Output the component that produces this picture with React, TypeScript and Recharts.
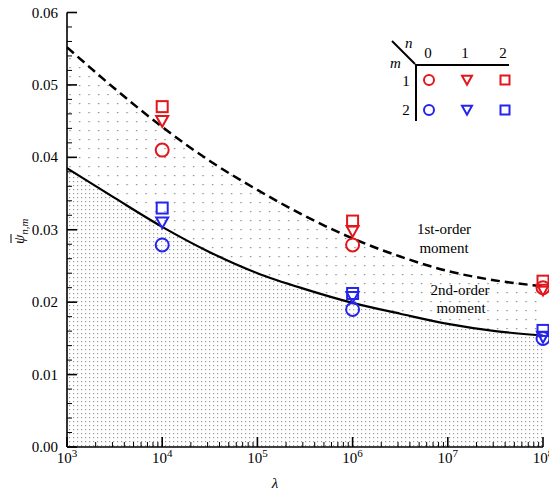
import React from "react";
import { ComposedChart, Area, Scatter, XAxis, YAxis } from "recharts";

// ---- data ----
const LAMBDA_CURVE = [1e3, 3.162e3, 1e4, 3.162e4, 1e5, 3.162e5, 1e6, 3.162e6, 1e7, 3.162e7, 1e8];
const FIRST_ORDER = [0.0552, 0.0495, 0.0442, 0.0395, 0.0355, 0.0319, 0.0288, 0.0263, 0.0243, 0.0230, 0.0222];
const SECOND_ORDER = [0.0385, 0.0344, 0.0304, 0.0269, 0.0240, 0.0218, 0.0199, 0.0184, 0.0170, 0.0160, 0.0154];

const LAMBDA_MARKERS = [1e4, 1e6, 1e8];
const M1N0 = [0.0410, 0.0279, 0.0220];
const M1N1 = [0.0450, 0.0298, 0.0217];
const M1N2 = [0.0470, 0.0312, 0.0229];
const M2N0 = [0.0279, 0.0190, 0.0150];
const M2N1 = [0.0310, 0.0207, 0.0152];
const M2N2 = [0.0330, 0.0212, 0.0161];

const X_DECADES = [3, 4, 5, 6, 7, 8];
const Y_MAJOR = [0, 0.01, 0.02, 0.03, 0.04, 0.05, 0.06];

const RED = "#e2161b";
const BLUE = "#2424ee";
const FONT = "'Liberation Serif', 'DejaVu Serif', serif";

const curveData = LAMBDA_CURVE.map((lam, i) => ({ lam, d1: FIRST_ORDER[i], d2: SECOND_ORDER[i] }));
const pts = (vals: number[]) => LAMBDA_MARKERS.map((lam, i) => ({ lam, v: vals[i] }));

const xTicks: number[] = [];
X_DECADES.forEach((d) => {
  if (d === 8) { xTicks.push(1e8); return; }
  for (let m = 1; m <= 9; m++) xTicks.push(m * Math.pow(10, d));
});
const yTicks: number[] = [];
for (let i = 0; i <= 30; i++) yTicks.push(Math.round(i * 2) / 1000);

const isMajorY = (v: number) => Y_MAJOR.some((m) => Math.abs(m - v) < 1e-9);

function XTick(props: any) {
  const { x, y, payload } = props;
  const v = payload.value as number;
  const e = Math.log10(v);
  const major = Math.abs(e - Math.round(e)) < 1e-6;
  return (
    <g>
      <line x1={x} x2={x} y1={y} y2={y - (major ? 10 : 5)} stroke="#000" strokeWidth={major ? 1.6 : 1} />
      {major && (
        <text x={x} y={y + 16} textAnchor="middle" fontSize={15} fontFamily={FONT} fill="#000">
          10<tspan dy={-6} fontSize={11}>{Math.round(e)}</tspan>
        </text>
      )}
    </g>
  );
}

function YTick(props: any) {
  const { x, y, payload } = props;
  const v = payload.value as number;
  const major = isMajorY(v);
  return (
    <g>
      <line x1={x} x2={x + (major ? 10 : 5)} y1={y} y2={y} stroke="#000" strokeWidth={major ? 1.6 : 1} />
      {major && (
        <text x={x - 9} y={y + 5} textAnchor="end" fontSize={15} fontFamily={FONT} fill="#000">
          {v.toFixed(2)}
        </text>
      )}
    </g>
  );
}

const circleShape = (color: string, r = 6.5) => (p: any) => (
  <circle cx={p.cx} cy={p.cy} r={r} fill="none" stroke={color} strokeWidth={2} />
);
const triShape = (color: string, s = 6) => (p: any) => (
  <polygon
    points={`${p.cx - s},${p.cy - s * 0.85} ${p.cx + s},${p.cy - s * 0.85} ${p.cx},${p.cy + s * 0.95}`}
    fill="none"
    stroke={color}
    strokeWidth={2}
  />
);
const sqShape = (color: string, s = 5.5) => (p: any) => (
  <rect x={p.cx - s} y={p.cy - s} width={2 * s} height={2 * s} fill="none" stroke={color} strokeWidth={2} />
);

function LegendTable() {
  return (
    <g fontFamily={FONT} fontSize={15} fill="#000">
      <line x1={392} y1={41} x2={415} y2={64} stroke="#000" strokeWidth={2} />
      <line x1={415} y1={65} x2={509} y2={65} stroke="#000" strokeWidth={2} />
      <line x1={416} y1={64} x2={416} y2={121} stroke="#000" strokeWidth={2} />
      <text x={405} y={48} fontStyle="italic">n</text>
      <text x={390} y={68} fontStyle="italic">m</text>
      <text x={428} y={58} textAnchor="middle">0</text>
      <text x={465} y={58} textAnchor="middle">1</text>
      <text x={503} y={58} textAnchor="middle">2</text>
      <text x={406} y={86} textAnchor="middle">1</text>
      <text x={406} y={115} textAnchor="middle">2</text>
      {circleShape(RED, 5)({ cx: 429, cy: 80 })}
      {triShape(RED, 5)({ cx: 467, cy: 80 })}
      {sqShape(RED, 4.5)({ cx: 505, cy: 80 })}
      {circleShape(BLUE, 5)({ cx: 429, cy: 110 })}
      {triShape(BLUE, 5)({ cx: 467, cy: 110 })}
      {sqShape(BLUE, 4.5)({ cx: 505, cy: 110 })}
    </g>
  );
}

function Annotations() {
  const cx = 19, cy = 232;
  return (
    <g fontFamily={FONT} fontSize={15} fill="#000" textAnchor="middle">
      <text x={444} y={234}>1st-order</text>
      <text x={444} y={253}>moment</text>
      <text x={460} y={295}>2nd-order</text>
      <text x={461} y={313}>moment</text>
      <text x={259} y={386}>Self-extinguishing quench regime</text>
      <text x={275} y={488} fontStyle="italic">λ</text>
      <g transform={`rotate(-90 ${cx} ${cy})`}>
        <text x={cx - 12} y={cy + 5} textAnchor="start" fontStyle="italic">
          ψ<tspan dy={4} fontSize={11}>n,m</tspan>
        </text>
        <line x1={cx - 11} x2={cx - 2} y1={cy - 8} y2={cy - 8} stroke="#000" strokeWidth={1} />
      </g>
    </g>
  );
}

export default function App() {
  return (
    <div style={{ position: "absolute", left: 0, top: 0 }}>
      <ComposedChart
        width={549}
        height={494}
        data={curveData}
        margin={{ top: 12.5, right: 6, left: 0, bottom: 0 }}
      >
        <defs>
          <pattern id="sparse" x={0} y={0} width={9.5} height={9} patternUnits="userSpaceOnUse">
            <rect x={3} y={4} width={1.2} height={1.2} fill="#777" />
          </pattern>
          <pattern id="dense" x={0} y={0} width={4} height={4} patternUnits="userSpaceOnUse">
            <rect x={0} y={0} width={4} height={4} fill="#fff" />
            <rect x={1} y={1} width={1.2} height={1.2} fill="#999" />
          </pattern>
        </defs>
        <XAxis
          dataKey="lam"
          type="number"
          scale="log"
          domain={[1e3, 1e8]}
          ticks={xTicks}
          interval={0}
          tick={<XTick />}
          tickLine={false}
          tickSize={0}
          tickMargin={0}
          height={47}
          axisLine={{ stroke: "#000", strokeWidth: 1.6 }}
        />
        <YAxis
          type="number"
          domain={[0, 0.06]}
          ticks={yTicks}
          interval={0}
          tick={<YTick />}
          tickLine={false}
          tickSize={0}
          tickMargin={0}
          width={67}
          axisLine={{ stroke: "#000", strokeWidth: 1.6 }}
        />
        <Area
          type="monotone"
          dataKey="d1"
          stroke="#000"
          strokeWidth={2.5}
          strokeDasharray="9 5"
          fill="url(#sparse)"
          fillOpacity={1}
          isAnimationActive={false}
          dot={false}
          activeDot={false}
        />
        <Area
          type="monotone"
          dataKey="d2"
          stroke="#000"
          strokeWidth={2.2}
          fill="url(#dense)"
          fillOpacity={1}
          isAnimationActive={false}
          dot={false}
          activeDot={false}
        />
        <Scatter data={pts(M1N2)} dataKey="v" shape={sqShape(RED)} isAnimationActive={false} />
        <Scatter data={pts(M1N1)} dataKey="v" shape={triShape(RED)} isAnimationActive={false} />
        <Scatter data={pts(M1N0)} dataKey="v" shape={circleShape(RED)} isAnimationActive={false} />
        <Scatter data={pts(M2N2)} dataKey="v" shape={sqShape(BLUE)} isAnimationActive={false} />
        <Scatter data={pts(M2N1)} dataKey="v" shape={triShape(BLUE)} isAnimationActive={false} />
        <Scatter data={pts(M2N0)} dataKey="v" shape={circleShape(BLUE)} isAnimationActive={false} />
        <LegendTable />
        <Annotations />
      </ComposedChart>
    </div>
  );
}
